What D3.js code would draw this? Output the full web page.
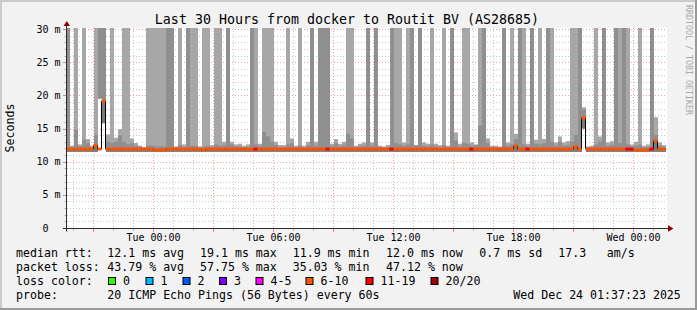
<!DOCTYPE html>
<html><head><meta charset="utf-8">
<script src="https://cdn.jsdelivr.net/npm/d3@7"></script>
<style>
html,body{margin:0;padding:0;background:#f2f2f2;}
svg{display:block;}
text{font-family:"DejaVu Sans Mono",monospace;fill:#000;white-space:pre;}
</style></head><body>
<svg id="c" width="697" height="310"></svg>
<script>
// ---------------- DATA ----------------
const title = "Last 30 Hours from docker to Routit BV (AS28685)";
const yAxisTitle = "Seconds";
const watermark = "RRDTOOL / TOBI OETIKER";
const timeStart = new Date(2025, 11, 22, 19, 41, 0);
const timeEnd = new Date(2025, 11, 24, 1, 41, 0);
const colStart = new Date(2025, 11, 22, 19, 38, 0);   // first 12-minute bin
const colMinutes = 12;
const yTicks = [0, 5, 10, 15, 20, 25, 30];
const yTickLabels = ["0  ", "5 m", "10 m", "15 m", "20 m", "25 m", "30 m"];

// smoke (ms) per 12-min bin ; 40 = above the chart
const smokeTop = [
 40,12.4,40,12.6,40,13.4,12.4,40,40,40,
 14.1,40,13.6,14.9,40,40,13.5,12.8,12.4,12.2,
 40,40,40,40,40,40,40,12.3,40,12.6,
 40,40,40,12.3,40,40,12.5,40,40,13.0,
 40,13.0,12.6,12.7,12.4,12.6,40,40,12.7,40,
 40,40,13.0,12.5,12.5,40,13.5,12.4,40,12.4,
 13.0,40,13.0,40,40,40,12.7,13.4,12.7,13.0,
 40,40,12.4,12.7,12.9,40,12.9,40,12.4,12.3,
 12.5,40,40,40,12.9,40,40,12.5,40,12.9,
 12.7,40,12.7,12.5,40,12.4,40,14.4,12.7,40,
 40,12.9,12.6,40,40,13.5,12.4,12.4,12.3,40,
 12.9,40,14.2,40,40,12.7,40,13.3,40,13.4,
 40,40,12.9,13.8,12.9,13.1,40,40,40,18.2,
 12.3,12.4,40,13.8,40,12.9,13.1,40,40,40,
 40,12.6,13.0,40,12.4,12.6,40,16.7,12.9,12.5
];
const smokeInner = [
 40,12.2,14.8,12.3,13.3,12.8,12.2,14.0,40,40,
 13.0,12.8,13.0,14.0,13.0,12.6,12.8,12.4,12.3,12.1,
 12.4,12.4,12.3,12.3,12.3,40,40,12.1,12.5,12.2,
 40,12.4,12.4,12.1,12.3,12.4,12.2,12.6,12.4,12.5,
 40,12.6,12.3,12.3,12.2,12.2,40,12.6,12.3,14.5,
 13.8,13.0,12.5,12.2,12.2,12.6,12.8,12.2,12.5,12.2,
 12.5,40,12.4,40,40,40,12.3,12.8,12.3,12.5,
 14.2,13.5,12.2,12.3,12.4,40,12.4,40,12.2,12.1,
 12.2,40,12.8,12.6,12.4,12.6,40,12.4,40,12.4,
 12.3,12.6,12.3,12.2,12.5,12.2,40,13.2,12.3,12.9,
 12.7,12.4,12.5,15.4,40,12.8,12.2,12.2,12.1,40,
 12.4,12.6,13.4,40,12.6,12.3,40,12.7,12.6,12.8,
 40,13.0,12.4,13.0,12.4,12.5,13.0,14.0,40,17.8,
 12.1,12.2,12.6,13.0,40,12.4,12.5,40,12.8,40,
 12.6,12.3,12.4,12.6,12.2,12.2,40,14.0,12.4,12.2
];
const smokeLow = [
 11.5,11.5,11.5,11.5,11.5,11.5,11.5,11.5,19.5,15.8,
 11.5,11.5,11.5,11.5,11.5,11.5,11.5,11.5,11.5,11.5,
 11.5,11.5,11.5,11.5,11.5,11.5,11.5,11.5,11.5,11.5,
 11.5,11.5,11.5,11.5,11.5,11.5,11.5,11.5,11.5,11.5,
 11.5,11.5,11.5,11.5,11.5,11.5,11.5,11.5,11.5,11.5,
 11.5,11.5,11.5,11.5,11.5,11.5,11.5,11.5,11.5,11.5,
 11.5,11.5,11.5,11.5,11.5,11.5,11.5,11.5,11.5,11.5,
 11.5,11.5,11.5,11.5,11.5,11.5,11.5,11.5,11.5,11.5,
 11.5,11.5,11.5,11.5,11.5,11.5,11.5,11.5,11.5,11.5,
 11.5,11.5,11.5,11.5,11.5,11.5,11.5,11.5,11.5,11.5,
 11.5,11.5,11.5,11.5,11.5,11.5,11.5,11.5,11.5,11.5,
 11.5,11.5,11.5,11.5,11.5,11.5,11.5,11.5,11.5,11.5,
 11.5,11.5,11.5,11.5,11.5,11.5,11.5,11.5,11.5,15.0,
 11.5,11.5,11.5,11.5,11.5,11.5,11.5,11.5,11.5,11.5,
 11.5,11.5,11.5,11.5,11.5,11.5,11.5,11.5,11.5,11.5
];
const median = [
 11.9,11.9,11.9,11.9,11.9,11.9,11.9,12.45,11.9,19.15,
 11.9,11.9,11.9,11.9,11.9,11.9,11.9,11.9,11.9,11.9,
 11.9,11.9,11.75,11.75,11.75,11.9,11.9,11.9,11.9,11.9,
 11.9,11.9,11.9,11.9,11.75,11.9,11.9,11.9,11.9,11.9,
 11.9,11.9,11.9,11.9,11.9,11.9,11.9,11.9,11.9,11.9,
 11.9,11.9,11.9,11.9,11.9,11.9,11.9,11.9,11.9,11.9,
 11.9,11.9,11.9,11.9,11.9,11.9,11.9,11.9,11.9,11.9,
 11.9,11.9,11.9,11.9,11.9,11.9,11.9,11.9,11.9,11.9,
 11.9,11.9,11.9,11.9,11.9,11.9,11.9,11.9,11.9,11.9,
 11.9,11.9,11.9,11.9,11.9,11.9,11.9,11.9,11.9,11.9,
 11.9,11.9,11.9,11.9,11.9,11.9,11.9,11.9,11.9,11.9,
 11.9,11.9,12.35,11.9,11.9,11.9,11.9,11.9,11.9,11.9,
 11.9,11.9,11.9,11.9,11.9,11.9,11.9,12.25,11.9,16.6,
 11.9,11.9,11.9,11.9,11.9,11.9,11.9,11.9,11.9,11.9,
 11.9,11.9,11.75,11.75,11.75,11.75,11.9,13.15,11.9,11.9
];
const loss = [
 9,8,9,8,9,8,8,9,9,9,
 8,9,8,8,9,9,8,8,8,7,
 9,9,9,10,9,10,9,8,9,8,
 9,9,9,7,9,9,8,9,9,8,
 10,8,8,8,8,8,10,12,8,9,
 9,9,8,8,8,9,8,7,9,8,
 8,10,8,10,10,12,8,8,8,8,
 9,9,8,8,8,10,8,10,8,7,
 8,12,9,9,8,9,10,8,10,8,
 8,9,8,8,9,7,10,8,8,9,
 9,12,8,9,10,8,8,8,7,10,
 8,9,9,10,9,12,10,8,9,8,
 10,9,8,8,8,8,9,9,10,9,
 7,8,9,8,10,8,8,10,9,10,
 12,12,8,9,8,8,12,9,8,8
];

const lossLabels = ["0", "1", "2", "3", "4-5", "6-10", "11-19", "20/20"];
const lossColors = ["#26ff00", "#00b8ff", "#0059ff", "#7e00ff", "#ff00ff", "#ff5500", "#ff0000", "#a10000"];
const medianLabel = "median rtt:";
const medianStats = ["12.1 ms avg", "19.1 ms max", "11.9 ms min", "12.0 ms now", "0.7 ms sd", "17.3", "am/s"];
const lossLabel = "packet loss:";
const lossStats = ["43.79 % avg", "57.75 % max", "35.03 % min", "47.12 % now"];
const colorLabel = "loss color:";
const probeLabel = "probe:";
const probeText = "20 ICMP Echo Pings (56 Bytes) every 60s";
const stampText = "Wed Dec 24 01:37:23 2025";

// ---------------- LAYOUT ----------------
const W = 697, H = 310;
const PL = 67, PR = 667, PT = 28, PB = 228;
const statX = [107.3, 200, 292.7, 386, 479.3, 558.3, 606.7];
const swatchX = [108, 145.5, 182.5, 219, 255.5, 305.5, 365.5, 430.5];
const rowY = [257.3, 271.3, 285.3, 299.3];
const legendFont = "11.6px";

const svg = d3.select("#c");
const x = d3.scaleTime().domain([timeStart, timeEnd]).range([PL, PR]);
const y = d3.scaleLinear().domain([0, 30]).range([228, 29]);
const colTime = k => d3.timeMinute.offset(colStart, k * colMinutes);
function lossBin(n) { if (n <= 3) return n; if (n <= 5) return 4; if (n <= 10) return 5; if (n <= 19) return 6; return 7; }

// background + frame
svg.append("rect").attr("width", W).attr("height", H).attr("fill", "#f2f2f2");
svg.append("rect").attr("x", 0).attr("y", 0).attr("width", W).attr("height", 2).attr("fill", "#cbcbcb");
svg.append("rect").attr("x", 0).attr("y", 0).attr("width", 2).attr("height", H).attr("fill", "#cbcbcb");
svg.append("rect").attr("x", 0).attr("y", H - 2).attr("width", W).attr("height", 2).attr("fill", "#999999");
svg.append("rect").attr("x", W - 2).attr("y", 0).attr("width", 2).attr("height", H).attr("fill", "#999999");

// canvas
svg.append("rect").attr("x", PL).attr("y", PT).attr("width", PR - PL).attr("height", PB - PT).attr("fill", "#ffffff");
svg.append("clipPath").attr("id", "clip").append("rect").attr("x", PL).attr("y", PT).attr("width", PR - PL).attr("height", PB - PT);

const grid = svg.append("g").attr("clip-path", "url(#clip)");
const minorCol = "#c8c8c8", majorCol = "#eca0a0";
for (let v = 1; v <= 30; v++) {
  const yy = Math.round(y(v)) + 0.5;
  grid.append("line").attr("x1", PL).attr("x2", PR).attr("y1", yy).attr("y2", yy)
    .attr("stroke", v % 5 === 0 ? majorCol : minorCol).attr("stroke-dasharray", "1,2");
}
const hours = d3.timeHour.range(timeStart, timeEnd);
hours.forEach(t => {
  const xx = Math.round(x(t)) + 0.5;
  const major = t.getHours() % 3 === 0;
  grid.append("line").attr("x1", xx).attr("x2", xx).attr("y1", PT).attr("y2", PB)
    .attr("stroke", major ? majorCol : minorCol).attr("stroke-dasharray", "1,2");
});

// smoke
const smoke = svg.append("g").attr("clip-path", "url(#clip)");
const cap = v => Math.min(v, 31);
for (let k = 0; k < smokeTop.length; k++) {
  const x0 = x(colTime(k)), x1 = x(colTime(k + 1));
  const lo = smokeLow[k];
  if (smokeTop[k] > lo) {
    smoke.append("rect").attr("x", x0).attr("width", x1 - x0)
      .attr("y", y(cap(smokeTop[k]))).attr("height", y(lo) - y(cap(smokeTop[k]))).attr("fill", "#a7a7a7");
  }
  if (smokeInner[k] > lo) {
    smoke.append("rect").attr("x", x0).attr("width", x1 - x0)
      .attr("y", y(cap(smokeInner[k]))).attr("height", y(lo) - y(cap(smokeInner[k]))).attr("fill", "#8f8f8f");
  }
  const core = median[k];
  if (core > lo) {
    smoke.append("rect").attr("x", x0).attr("width", x1 - x0)
      .attr("y", y(core)).attr("height", y(lo) - y(core)).attr("fill", "#7a7a7a");
  }
}

// median: thin black step line + loss-coloured segments
const pts = median.map((m, k) => [x(colTime(k)) - 0.5, y(m)]);
pts.push([x(colTime(median.length)) - 0.5, y(median[median.length - 1])]);
smoke.append("path").attr("d", d3.line().curve(d3.curveStepAfter)(pts))
  .attr("fill", "none").attr("stroke", "#000").attr("stroke-width", 1);
median.forEach((m, k) => {
  const x0 = x(colTime(k)) - 0.5, x1 = x(colTime(k + 1)) - 0.5;
  smoke.append("rect").attr("x", x0).attr("width", x1 - x0)
    .attr("y", y(m) - 1.5).attr("height", 3).attr("fill", lossColors[lossBin(loss[k])]);
});

// axes
const axisCol = "#2c2c2c";
for (let v = 0; v <= 30; v++) {
  const yy = Math.round(y(v)) + 0.5;
  const major = v % 5 === 0;
  svg.append("line").attr("x1", major ? 63 : 64.5).attr("x2", 66).attr("y1", yy).attr("y2", yy)
    .attr("stroke", major ? "#e08080" : "#b0b0b0");
}
hours.forEach(t => {
  const xx = Math.round(x(t)) + 0.5;
  const major = t.getHours() % 3 === 0;
  svg.append("line").attr("x1", xx).attr("x2", xx).attr("y1", 229).attr("y2", major ? 232 : 230.5)
    .attr("stroke", major ? "#e08080" : "#b0b0b0");
});
svg.append("line").attr("x1", 66.5).attr("x2", 66.5).attr("y1", 25).attr("y2", 231.5).attr("stroke", axisCol);
svg.append("line").attr("x1", 63).attr("x2", 669).attr("y1", 228.5).attr("y2", 228.5).attr("stroke", axisCol);
svg.append("path").attr("d", "M63.5,26 L70,26 L66.8,21 Z").attr("fill", "#8b0000");
svg.append("path").attr("d", "M668,225.3 L668,231.7 L673.5,228.5 Z").attr("fill", "#8b0000");

yTicks.forEach((v, i) => {
  svg.append("text").attr("x", 60.5).attr("y", y(v) + 3.6).attr("text-anchor", "end")
    .attr("font-size", "10px").text(yTickLabels[i]);
});
hours.filter(t => t.getHours() % 6 === 0).forEach(t => {
  svg.append("text").attr("x", Math.round(x(t)) + 0.5).attr("y", 240.5).attr("text-anchor", "middle")
    .attr("font-size", "10px").text(d3.timeFormat("%a %H:%M")(t));
});

svg.append("text").attr("x", 347).attr("y", 24).attr("text-anchor", "middle").attr("font-size", "13.3px").text(title);
svg.append("text").attr("transform", "translate(14,128) rotate(-90)").attr("text-anchor", "middle")
  .attr("font-size", legendFont).text(yAxisTitle);
svg.append("text").attr("transform", "translate(685.5,5) rotate(90)").attr("font-size", "8.3px")
  .style("fill", "#a8a8a8").text(watermark);

const leg = (s, xx, yy) => svg.append("text").attr("x", xx).attr("y", yy).attr("font-size", legendFont).text(s);
leg(medianLabel, 16, rowY[0]);
medianStats.forEach((s, i) => leg(s, statX[i], rowY[0]));
leg(lossLabel, 16, rowY[1]);
lossStats.forEach((s, i) => leg(s, statX[i], rowY[1]));
leg(colorLabel, 16, rowY[2]);
lossLabels.forEach((s, i) => {
  svg.append("rect").attr("x", swatchX[i] + 0.5).attr("y", 277.5).attr("width", 7).attr("height", 7)
    .attr("fill", lossColors[i]).attr("stroke", "#000").attr("stroke-width", 1);
  leg(s, swatchX[i] + 15, rowY[2]);
});
leg(probeLabel, 16, rowY[3]);
leg(probeText, statX[0], rowY[3]);
leg(stampText, 513.3, rowY[3]);
</script>
</body></html>
